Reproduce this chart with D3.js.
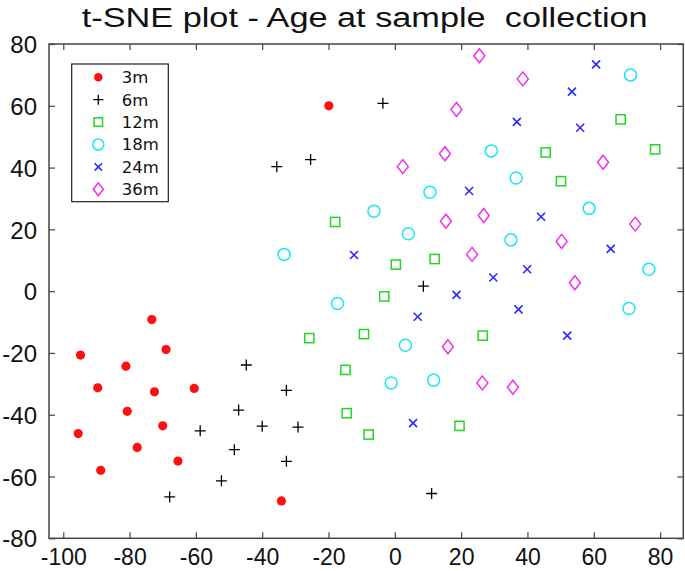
<!DOCTYPE html>
<html>
<head>
<meta charset="utf-8">
<script src="https://cdn.jsdelivr.net/npm/d3@7"></script>
<style>
  html, body { margin: 0; padding: 0; background: #fff; }
  svg { display: block; }
  text { white-space: pre; }
</style>
</head>
<body>
<svg id="chart" width="685" height="571"></svg>
<script>
const titleText = "t-SNE plot - Age at sample  collection";
const xTicks = [-100, -80, -60, -40, -20, 0, 20, 40, 60, 80];
const yTicks = [-80, -60, -40, -20, 0, 20, 40, 60, 80];
const seriesNames = ["3m", "6m", "12m", "18m", "24m", "36m"];

const pts3m = [[-73.3,-9.2],[-94.8,-20.7],[-69,-18.9],[-81.1,-24.3],[-89.6,-31.3],[-72.5,-32.6],[-60.5,-31.5],[-80.7,-38.9],[-70,-43.6],[-95.5,-46.1],[-77.7,-50.6],[-65.4,-55],[-88.7,-58],[-34.2,-67.9],[-19.9,60]];
const pts6m = [[-44.8,-23.9],[-32.7,-32.1],[-47.1,-38.5],[-58.7,-45.2],[-40,-43.7],[-29.2,-44],[-48.4,-51.3],[-32.7,-55.1],[-52.3,-61.4],[-67.9,-66.6],[-3.6,60.8],[-25.4,42.6],[-35.6,40.3],[8.6,1.6],[11.1,-65.5]];
const pts12m = [[68.1,55.6],[78.5,45.9],[45.5,44.9],[50.1,35.6],[-18,22.4],[0.3,8.6],[12,10.4],[-3.2,-1.7],[-25.8,-15.2],[-9.3,-13.9],[26.5,-14.4],[-14.9,-25.5],[-14.5,-39.5],[-7.9,-46.4],[19.5,-43.6]];
const pts18m = [[71.1,70],[29.1,45.4],[36.6,36.6],[10.6,32],[58.6,26.8],[-6.3,25.9],[4.1,18.6],[35,16.6],[-33.4,11.9],[76.6,7.1],[70.6,-5.6],[-17.3,-4],[3.2,-17.5],[-1.1,-29.7],[11.7,-28.8]];
const pts24m = [[60.7,73.4],[53.4,64.6],[36.8,54.8],[55.9,52.9],[22.4,32.4],[44.1,24.1],[65.1,13.7],[-12.3,11.7],[39.9,7.1],[29.7,4.4],[18.6,-1.2],[6.9,-8.3],[37.3,-5.9],[52,-14.4],[5.5,-42.7]];
const pts36m = [[25.5,76.2],[38.6,68.7],[18.6,58.8],[15.1,44.5],[2.4,40.3],[62.8,41.7],[26.8,24.5],[15.4,22.6],[72.5,21.7],[50.3,16.1],[23.3,11.9],[54.3,2.7],[16,-18],[26.4,-29.7],[35.6,-31.1]];

const seriesData = [pts3m, pts6m, pts12m, pts18m, pts24m, pts36m];
const colors = ["#ff1010", "#000000", "#22d622", "#1ee6f0", "#2a2aff", "#f030f0"];

const svg = d3.select("#chart");
const L = 49, R = 683.3, T = 44, B = 538.3;

const x = d3.scaleLinear().domain([-104.3, 87]).range([L, R]);
const y = d3.scaleLinear().domain([-80, 80]).range([B, T]);

const fmt = d => String(d);

// Title
svg.append("text")
  .attr("x", 81.7).attr("y", 27)
  .attr("font-family", "Liberation Sans, Arial, sans-serif")
  .attr("font-size", 27)
  .attr("textLength", 566)
  .attr("lengthAdjust", "spacingAndGlyphs")
  .attr("fill", "#111")
  .text(titleText);

// Axes with inward ticks
const frameColor = "#444";
const axB = svg.append("g").attr("transform", `translate(0,${B})`)
  .call(d3.axisBottom(x).tickValues(xTicks).tickSizeInner(-6).tickSizeOuter(0).tickPadding(0).tickFormat(fmt));
const axT = svg.append("g").attr("transform", `translate(0,${T})`)
  .call(d3.axisTop(x).tickValues(xTicks).tickSizeInner(-6).tickSizeOuter(0).tickFormat(""));
const axL = svg.append("g").attr("transform", `translate(${L},0)`)
  .call(d3.axisLeft(y).tickValues(yTicks).tickSizeInner(-6).tickSizeOuter(0).tickPadding(0).tickFormat(fmt));
const axR = svg.append("g").attr("transform", `translate(${R},0)`)
  .call(d3.axisRight(y).tickValues(yTicks).tickSizeInner(-6).tickSizeOuter(0).tickFormat(""));

[axB, axT, axL, axR].forEach(g => {
  g.select(".domain").remove();
  g.selectAll(".tick line").attr("stroke", frameColor).attr("stroke-width", 1.2);
  g.selectAll("text")
    .attr("font-family", "Liberation Sans, Arial, sans-serif")
    .attr("font-size", 24)
    .attr("fill", "#111");
});
axB.selectAll("text").attr("dy", null).attr("y", 27).attr("font-size", 23);
axL.selectAll("text").attr("x", -12).attr("dy", "0.36em");

svg.append("rect")
  .attr("x", L).attr("y", T).attr("width", R - L).attr("height", B - T)
  .attr("fill", "none").attr("stroke", frameColor).attr("stroke-width", 1.5);

// Marker drawing
function drawMarker(g, k, cx, cy, s) {
  const c = colors[k];
  const sc = s || 1;
  if (k === 0) {
    g.append("circle").attr("cx", cx).attr("cy", cy).attr("r", 4.6 * sc).attr("fill", c);
  } else if (k === 1) {
    const a = 5.5 * sc;
    g.append("path").attr("d", `M${cx - a},${cy}H${cx + a}M${cx},${cy - a}V${cy + a}`)
      .attr("stroke", c).attr("stroke-width", 1.3).attr("fill", "none");
  } else if (k === 2) {
    const a = 4.6 * sc;
    g.append("rect").attr("x", cx - a).attr("y", cy - a).attr("width", 2 * a).attr("height", 2 * a)
      .attr("stroke", c).attr("stroke-width", 1.5).attr("fill", "none");
  } else if (k === 3) {
    g.append("circle").attr("cx", cx).attr("cy", cy).attr("r", 6 * sc)
      .attr("stroke", c).attr("stroke-width", 1.5).attr("fill", "none");
  } else if (k === 4) {
    const a = 4 * sc;
    g.append("path").attr("d", `M${cx - a},${cy - a}L${cx + a},${cy + a}M${cx - a},${cy + a}L${cx + a},${cy - a}`)
      .attr("stroke", c).attr("stroke-width", 1.6).attr("fill", "none");
  } else if (k === 5) {
    const w = 5.5 * sc, h = 7 * sc;
    g.append("path").attr("d", `M${cx},${cy - h}L${cx + w},${cy}L${cx},${cy + h}L${cx - w},${cy}Z`)
      .attr("stroke", c).attr("stroke-width", 1.5).attr("fill", "none");
  }
}

const plot = svg.append("g");
seriesData.forEach((pts, k) => {
  const g = plot.append("g").attr("class", "series-" + seriesNames[k]);
  pts.forEach(p => drawMarker(g, k, x(p[0]), y(p[1])));
});

// Legend
const leg = svg.append("g");
leg.append("rect").attr("x", 71.7).attr("y", 64).attr("width", 96.6).attr("height", 137.7)
  .attr("fill", "#fff").attr("stroke", "#222").attr("stroke-width", 1.2);
seriesNames.forEach((name, i) => {
  const cy = 77.3 + i * 22.4;
  drawMarker(leg, i, 98.3, cy, 0.92);
  leg.append("text").attr("x", 121.7).attr("y", cy)
    .attr("dy", "0.36em")
    .attr("font-family", "DejaVu Sans, sans-serif")
    .attr("font-size", 16.5)
    .attr("fill", "#111")
    .text(name);
});
</script>
</body>
</html>
